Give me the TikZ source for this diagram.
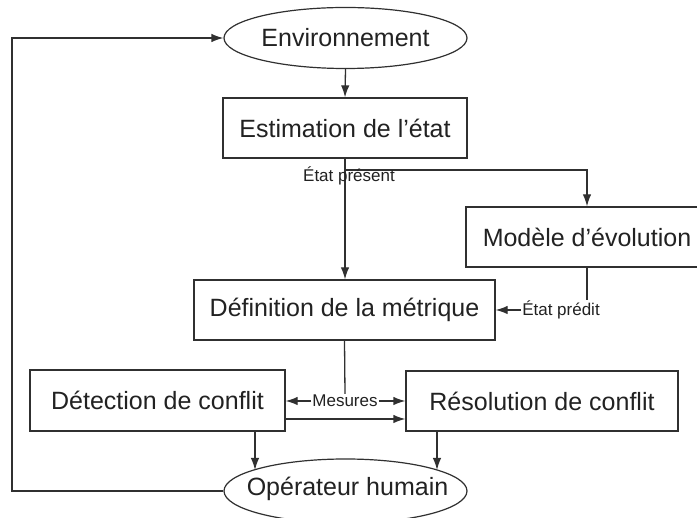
\documentclass[tikz,border=0pt]{standalone}
\usepackage{fontspec}
\setmainfont{Liberation Sans}
\usetikzlibrary{arrows.meta,shapes.geometric,calc}
\definecolor{ln}{HTML}{303030}
\definecolor{tx}{HTML}{222222}
\begin{document}
\begin{tikzpicture}[x=1pt,y=-1pt,
  every node/.style={text=tx},
  big/.style={font=\fontsize{25}{30}\selectfont},
  small/.style={font=\fontsize{17}{20}\selectfont, inner sep=1pt},
  boxnode/.style={draw=ln, line width=1.3pt, rectangle, big, inner sep=0pt},
  ellnode/.style={draw=ln, line width=1.2pt, ellipse, inner sep=0pt},
  conn/.style={draw=ln, line width=1.3pt},
  arr/.style={conn, -{Latex[length=12pt,width=8.5pt]}}]
\useasboundingbox (0,0) rectangle (697,518);
\clip (0,0) rectangle (697,518);
\fill[white] (0,0) rectangle (697,518);
% nodes
\node[ellnode, minimum width=243pt, minimum height=61pt] (env) at (345.5,38) {};
\node[big] (envt) at (345.5,38) {Environnement};
\node[boxnode, minimum width=244pt, minimum height=60pt] (est) at (345,128) {Estimation de l’état};
\node[boxnode, minimum width=242pt, minimum height=60pt] (mod) at (587,237) {Modèle d’évolution};
\node[boxnode, minimum width=301pt, minimum height=60pt] (def) at (344.5,310) {Définition de la métrique};
\node[boxnode, minimum width=255pt, minimum height=61pt] (det) at (157.5,400.5) {Détection de conflit};
\node[boxnode, minimum width=272pt, minimum height=60pt] (res) at (542,401) {Résolution de conflit};
\node[ellnode, minimum width=243pt, minimum height=64pt] (op) at (345.5,491) {};
\node[big] (opt) at (347.5,489) {Opérateur humain};
% coordinates
\coordinate (fb) at (12,491);
\coordinate (ep) at (345,170);
\coordinate (d2) at (285,419);
\coordinate (a1) at (255,470);
\coordinate (a2) at (437,470);
% feedback loop
\draw[arr] (op.west) -- (fb) |- (env.west);
% main flow
\draw[arr] (env.south) -- (est.north);
\draw[arr] (est.south) -- (est.south |- def.north);
\draw[arr] (ep) -| (mod.north);
\node[small] (lep) at (349,176) {État présent};
\draw[arr] (mod.south) |- (def.east);
\node[small, fill=white] (lpr) at (561,310) {État prédit};
\node[small, fill=white] (mes) at (345,401) {Mesures};
\draw[conn] (def.south) -- (mes.north);
\draw[arr] (mes.west) -- (det.east |- mes.west);
\draw[arr] (mes.east) -- (res.west |- mes.east);
\draw[arr] (d2) -- (res.west |- d2);
\draw[arr] (det.south -| a1) -- (a1);
\draw[arr] (res.south -| a2) -- (a2);
\end{tikzpicture}
\end{document}
